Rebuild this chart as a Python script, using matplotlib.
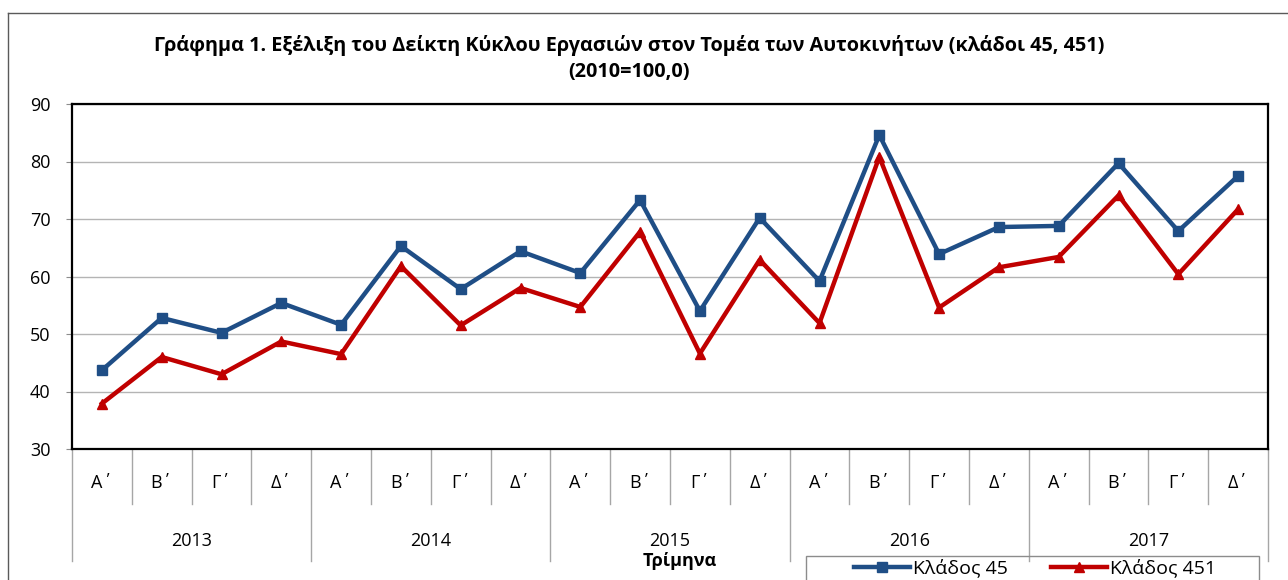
import matplotlib.pyplot as plt
import matplotlib.transforms as mtransforms
from matplotlib.lines import Line2D
from matplotlib.patches import Rectangle

plt.rcParams['font.family'] = ['Open Sans', 'DejaVu Sans']

# Data
quarters = ['Α΄', 'Β΄', 'Γ΄', 'Δ΄']
years = ['2013', '2014', '2015', '2016', '2017']
klados_45 = [43.7, 52.8, 50.2, 55.4, 51.6, 65.3, 57.8, 64.4, 60.6, 73.3,
             54.0, 70.2, 59.2, 84.6, 63.9, 68.6, 68.8, 79.7, 67.9, 77.5]
klados_451 = [37.9, 46.0, 43.0, 48.7, 46.5, 61.8, 51.5, 58.0, 54.7, 67.8,
              46.6, 62.9, 51.9, 80.8, 54.6, 61.6, 63.4, 74.1, 60.4, 71.7]

W, H = 1288, 580
fig = plt.figure(figsize=(W / 100, H / 100), dpi=100)

# plot area in pixels
left, right, top, bottom = 72, 1268, 104, 449
ax = fig.add_axes([left / W, 1 - bottom / H, (right - left) / W, (bottom - top) / H])

x = list(range(len(klados_45)))
ax.plot(x, klados_45, color='#1F4E86', lw=3.2, marker='s', ms=7.5, label='Κλάδος 45', zorder=3)
ax.plot(x, klados_451, color='#C00000', lw=3.2, marker='^', ms=7.5, label='Κλάδος 451', zorder=3)

ax.set_xlim(-0.5, len(x) - 0.5)
ax.set_ylim(30, 90)
ax.set_yticks(range(30, 91, 10))
ax.yaxis.grid(True, color='#b4b4b4', lw=1)
ax.set_axisbelow(True)
ax.set_xticks([])
ax.tick_params(axis='y', direction='out', length=4.3, color='#8c8c8c', labelsize=13, pad=11)
for s in ax.spines.values():
    s.set_color('black')
    s.set_linewidth(1.6)

# two-level category axis
trans = mtransforms.blended_transform_factory(ax.transData, ax.transAxes)
ph = bottom - top
q_end = -(504 - bottom) / ph
y_end = -(561 - bottom) / ph
q_lab = -(483 - bottom) / ph
y_lab = -(541 - bottom) / ph
for i in range(len(x) + 1):
    end = y_end if i % 4 == 0 else q_end
    ax.plot([i - 0.5, i - 0.5], [0, end], transform=trans, color='#a6a6a6',
            lw=1, clip_on=False)
for i in x:
    ax.text(i, q_lab, quarters[i % 4], transform=trans, ha='center', va='center', fontsize=13)
for j, yr in enumerate(years):
    ax.text(j * 4 + 1.5, y_lab, yr, transform=trans, ha='center', va='center', fontsize=13)

fig.text(680 / W, 1 - 561 / H, 'Τρίμηνα', ha='center', va='center', fontsize=13, fontweight='bold')

fig.text(629 / W, 1 - 45 / H,
         'Γράφημα 1. Εξέλιξη του Δείκτη Κύκλου Εργασιών στον Τομέα των Αυτοκινήτων (κλάδοι 45, 451)',
         ha='center', va='center', fontsize=14.3, fontweight='bold')
fig.text(629 / W, 1 - 72 / H, '(2010=100,0)', ha='center', va='center', fontsize=14.3, fontweight='bold')

# outer chart frame (left and top visible)
fig.add_artist(Line2D([8 / W, 8 / W], [0, 1 - 13 / H], color='#5a5a5a', lw=1))
fig.add_artist(Line2D([8 / W, 1], [1 - 13 / H, 1 - 13 / H], color='#5a5a5a', lw=1))

# legend box (runs past the bottom edge)
fig.add_artist(Rectangle((806 / W, -0.02), (1259 - 806) / W, 0.02 + (H - 556) / H,
                         transform=fig.transFigure, fill=False, edgecolor='#8c8c8c', lw=1))
fig.legend(loc='center', ncol=2, bbox_to_anchor=(1035 / W, 1 - 568 / H),
           frameon=False, fontsize=14, handlelength=2.9, handletextpad=0.15,
           columnspacing=2.2, borderpad=0)

fig.savefig('out.png', dpi=100)
